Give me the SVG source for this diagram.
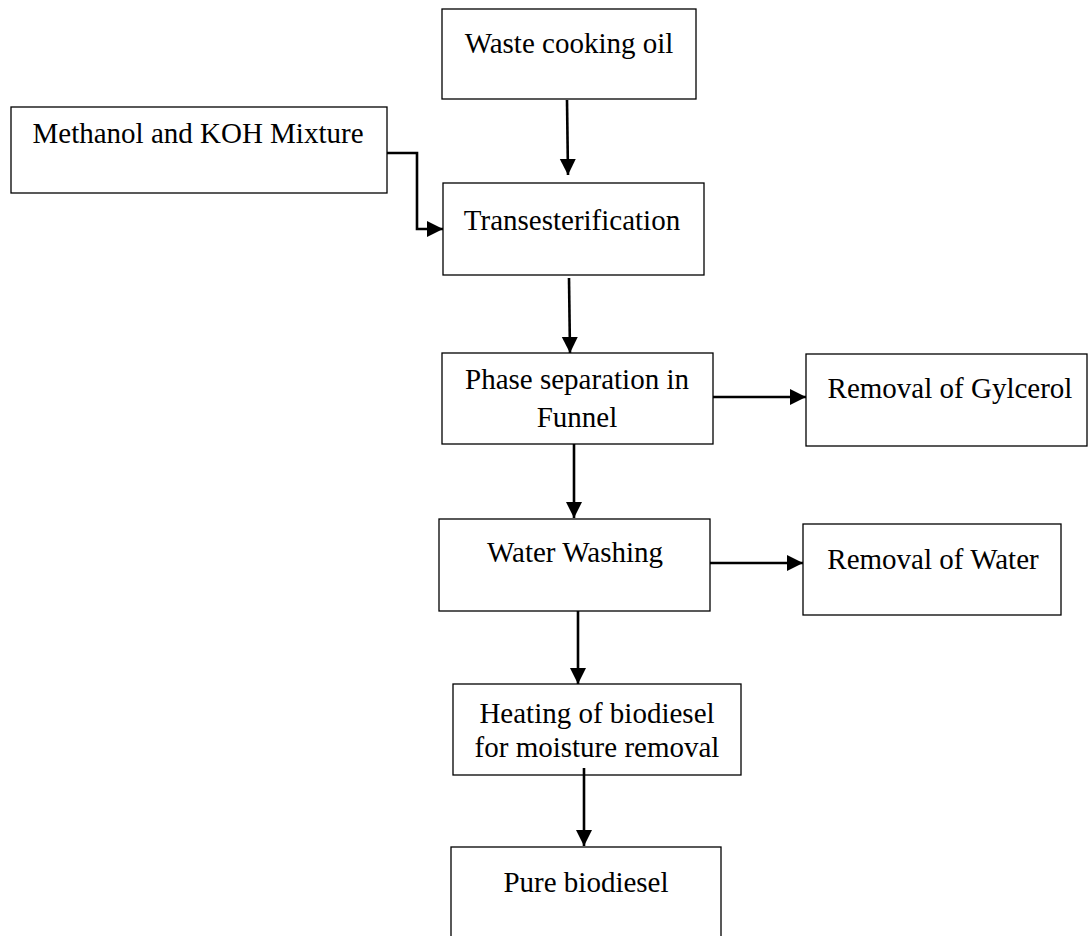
<svg xmlns="http://www.w3.org/2000/svg" width="1088" height="936" viewBox="0 0 1088 936">
<style>
.box{fill:#fff;stroke:#000;stroke-width:1.3}
.lbl{font-family:"Liberation Serif","Times New Roman",serif;font-size:29px;fill:#000;text-anchor:middle}
.con{fill:none;stroke:#000;stroke-width:2.6}
</style>
<defs>
<marker id="ah" markerUnits="userSpaceOnUse" markerWidth="17" markerHeight="17" refX="16" refY="8" orient="auto">
<path d="M0,0 L16,8 L0,16 z" fill="#000"/>
</marker>
</defs>
<rect width="1088" height="936" fill="#fff"/>
<g id="n-waste"><rect class="box" x="442" y="9" width="254" height="90"/><text class="lbl" x="569" y="53">Waste cooking oil</text></g>
<g id="n-methanol"><rect class="box" x="11" y="107" width="376" height="86"/><text class="lbl" x="198" y="143">Methanol and KOH Mixture</text></g>
<g id="n-trans"><rect class="box" x="443" y="183" width="261" height="92"/><text class="lbl" x="572" y="230">Transesterification</text></g>
<g id="n-phase"><rect class="box" x="442" y="353" width="271" height="91"/><text class="lbl" x="577" y="389">Phase separation in</text><text class="lbl" x="577" y="427">Funnel</text></g>
<g id="n-glycerol"><rect class="box" x="806" y="354" width="281" height="92"/><text class="lbl" x="950" y="398">Removal of Gylcerol</text></g>
<g id="n-washing"><rect class="box" x="439" y="519" width="271" height="92"/><text class="lbl" x="575" y="562">Water Washing</text></g>
<g id="n-water"><rect class="box" x="803" y="524" width="258" height="91"/><text class="lbl" x="933" y="569">Removal of Water</text></g>
<g id="n-heating"><rect class="box" x="453" y="684" width="288" height="91"/><text class="lbl" x="597" y="723">Heating of biodiesel</text><text class="lbl" x="597" y="757">for moisture removal</text></g>
<g id="n-pure"><rect class="box" x="451" y="847" width="270" height="100"/><text class="lbl" x="586" y="892">Pure biodiesel</text></g>
<g id="connectors">
<path class="con" d="M567,100 L568,175" marker-end="url(#ah)"/>
<path class="con" d="M387,153 L417,153 L417,229 L443,229" marker-end="url(#ah)"/>
<path class="con" d="M569,278 L570,353" marker-end="url(#ah)"/>
<path class="con" d="M574,444 L574,518" marker-end="url(#ah)"/>
<path class="con" d="M578,611 L578,684" marker-end="url(#ah)"/>
<path class="con" d="M584,768 L584,846" marker-end="url(#ah)"/>
<path class="con" d="M713,397 L806,397" marker-end="url(#ah)"/>
<path class="con" d="M710,563 L803,563" marker-end="url(#ah)"/>
</g>
</svg>
